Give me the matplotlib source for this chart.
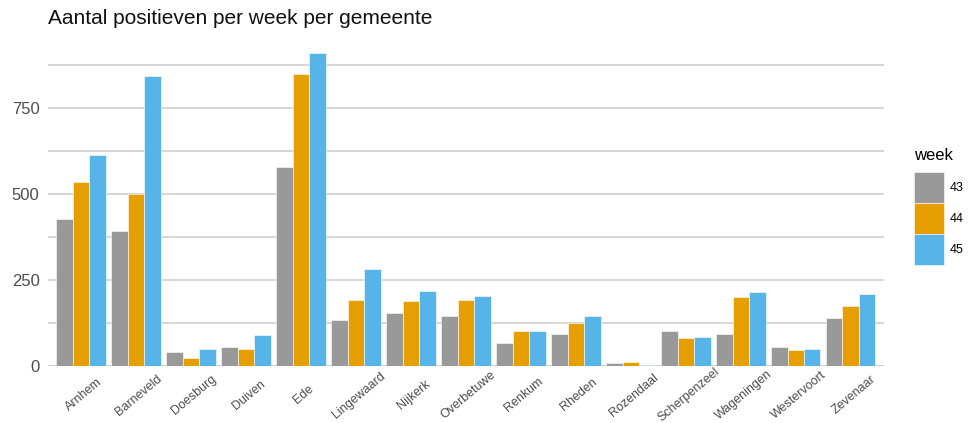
import matplotlib.pyplot as plt
import numpy as np

plt.rcParams['font.family'] = ['Liberation Sans', 'DejaVu Sans']

gemeenten = ['Arnhem', 'Barneveld', 'Doesburg', 'Duiven', 'Ede', 'Lingewaard',
             'Nijkerk', 'Overbetuwe', 'Renkum', 'Rheden', 'Rozendaal',
             'Scherpenzeel', 'Wageningen', 'Westervoort', 'Zevenaar']
weken = ['43', '44', '45']
week43 = [428, 393, 39, 55, 579, 133, 153, 146, 66, 94, 7, 101, 94, 56, 140]
week44 = [535, 500, 24, 49, 850, 192, 188, 192, 101, 126, 11, 80, 199, 46, 175]
week45 = [614, 844, 49, 90, 911, 282, 219, 202, 101, 146, 3, 83, 216, 49, 209]
kleuren = ['#999999', '#E69F00', '#56B4E9']

fig = plt.figure(figsize=(9.69, 4.23), dpi=100)
ax = fig.add_axes([0.0495, 0.135, 0.8625, 0.777])

x = np.arange(len(gemeenten))
w = 0.3
for i, (vals, col, lab) in enumerate(zip([week43, week44, week45], kleuren, weken)):
    ax.bar(x + (i - 1) * w, vals, width=w, color=col, label=lab,
           edgecolor='white', linewidth=0.4, zorder=3)

ax.set_xlim(-0.6, len(gemeenten) - 0.4)
ax.set_ylim(0, 956)
ax.set_yticks([0, 250, 500, 750])
ax.set_yticks([125, 375, 625, 875], minor=True)
ax.grid(axis='y', which='both', color='#cccccc', linewidth=1.1, zorder=0)
ax.axhline(0, color='#cccccc', linewidth=1.5, zorder=2)
for s in ax.spines.values():
    s.set_visible(False)
ax.tick_params(axis='both', which='both', length=0)
ax.tick_params(axis='y', labelsize=12, labelcolor='#4d4d4d', pad=6)
ax.set_xticks(x + 0.05)
ax.set_xticklabels(gemeenten, rotation=40, ha='center', va='center',
                   fontsize=9, color='#4d4d4d')
ax.tick_params(axis='x', pad=21)

fig.text(0.0495, 0.957, 'Aantal positieven per week per gemeente',
         fontsize=15, ha='left', va='center', color='#111111')

leg = ax.legend(title='week', loc='upper left', bbox_to_anchor=(1.036, 0.664),
                frameon=False, fontsize=9, title_fontsize=12,
                handlelength=2.4, handleheight=3.4, handletextpad=0.5,
                labelspacing=0.02, borderaxespad=0, borderpad=0)
leg._legend_box.align = 'left'
leg._legend_box.sep = 7

fig.savefig('out.png', dpi=100)
